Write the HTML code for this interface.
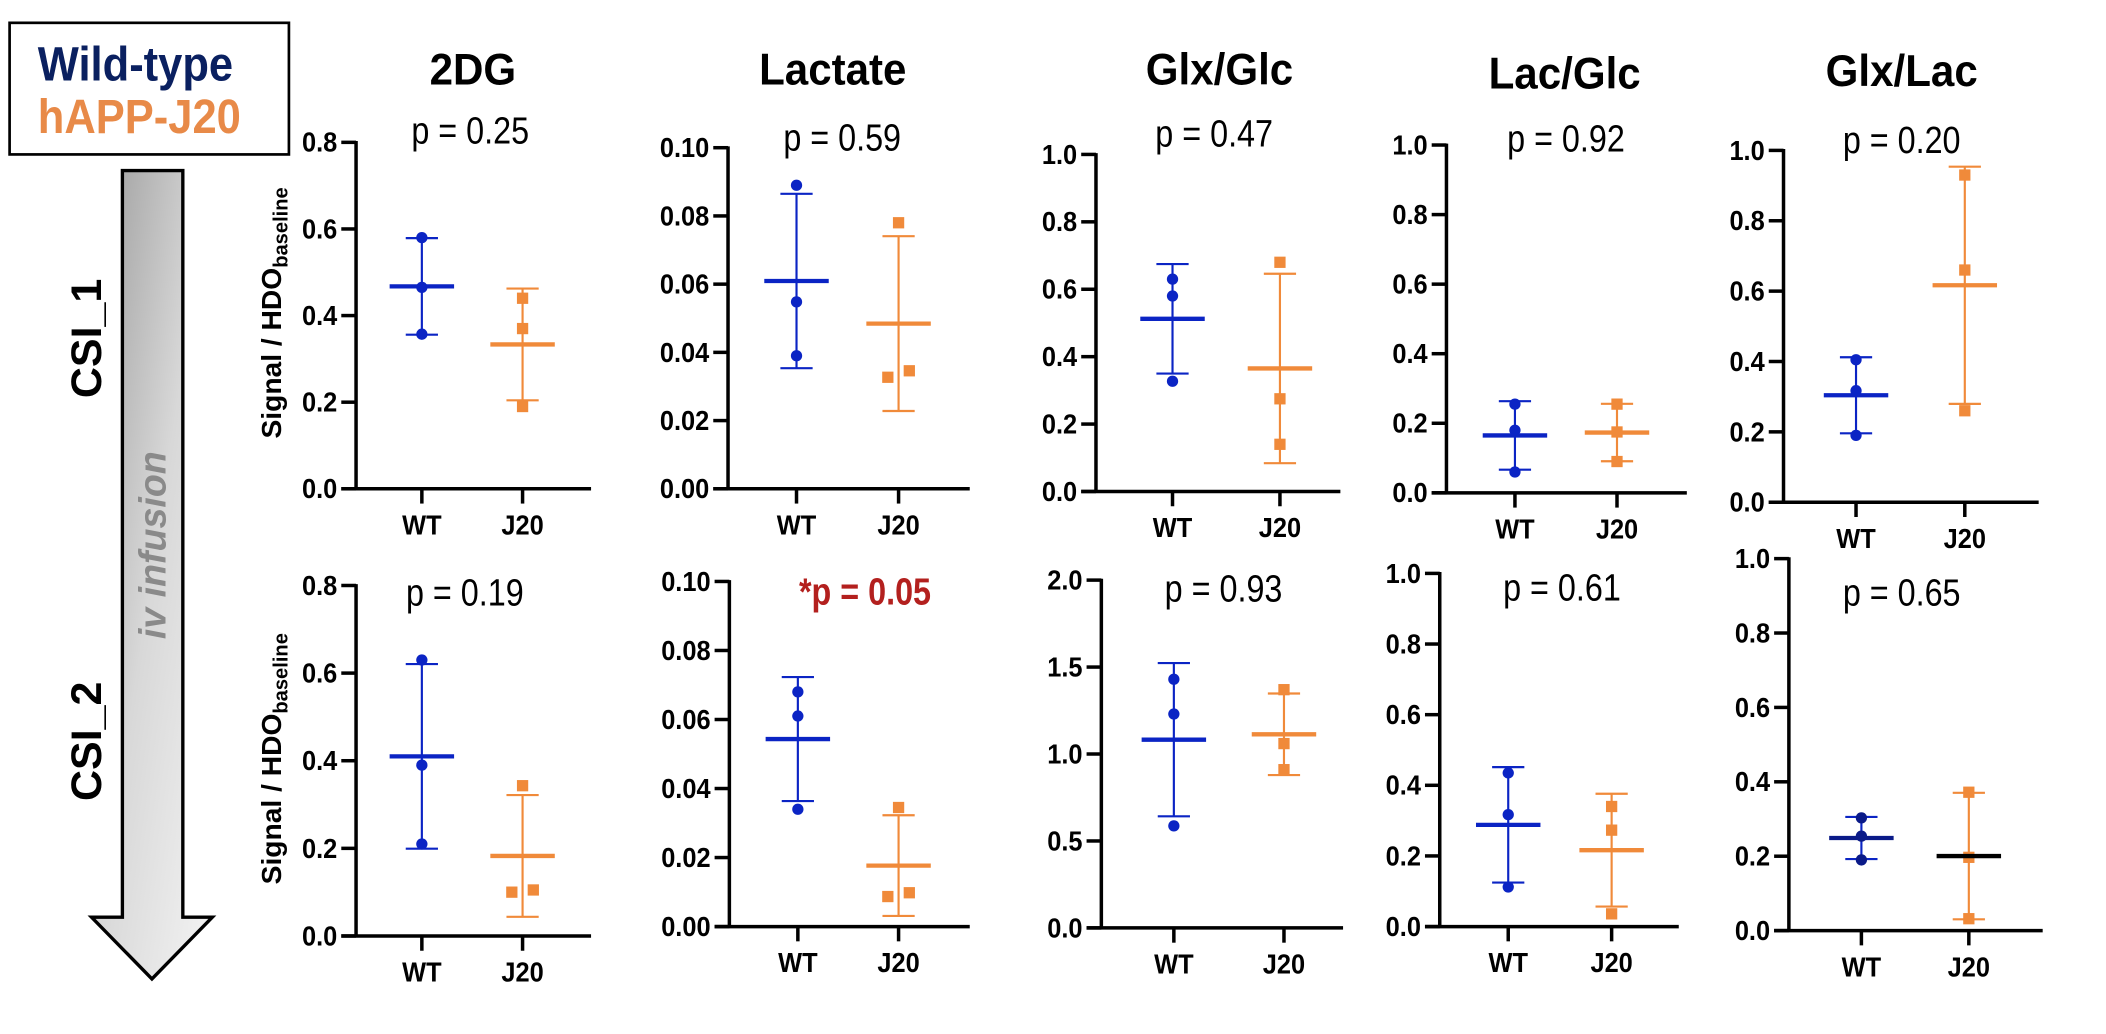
<!DOCTYPE html>
<html><head><meta charset="utf-8"><style>
html,body{margin:0;padding:0;background:#fff;}
svg{display:block;font-family:"Liberation Sans",Arial,sans-serif;}
</style></head><body>
<svg id="fig" width="2106" height="1034" viewBox="0 0 1568 770" xmlns="http://www.w3.org/2000/svg">
<defs>
<linearGradient id="arrowGrad" x1="0" y1="0" x2="1" y2="1">
<stop offset="0" stop-color="#9a9a9a"/><stop offset="0.5" stop-color="#d8d8d8"/><stop offset="1" stop-color="#f4f4f4"/>
</linearGradient>
</defs>
<g>
<rect x="7" y="17" width="208" height="98" fill="#fff" stroke="#000" stroke-width="2"/>
<text transform="translate(28,60) scale(0.9,1)" font-size="36" font-weight="bold" fill="#0a2060">Wild-type</text>
<text transform="translate(28,99) scale(0.9,1)" font-size="36" font-weight="bold" fill="#e88a48">hAPP-J20</text>
</g>
<g>
<path d="M91,127 L136,127 L136,683 L158,683 L113,729 L68,683 L91,683 Z" fill="url(#arrowGrad)" stroke="#000" stroke-width="2.5"/>
<text transform="translate(123,406) rotate(-90)" text-anchor="middle" font-size="28" font-weight="bold" font-style="italic" fill="#8a8a8a">iv infusion</text>
</g>
<text transform="translate(75,252) rotate(-90)" text-anchor="middle" font-size="32" font-weight="bold">CSI_1</text>
<text transform="translate(75,552) rotate(-90)" text-anchor="middle" font-size="32" font-weight="bold">CSI_2</text>
<text transform="translate(209,233) rotate(-90)" text-anchor="middle" font-size="21" font-weight="bold">Signal / HDO<tspan font-size="15" dy="5">baseline</tspan></text>
<text transform="translate(209,565) rotate(-90)" text-anchor="middle" font-size="21" font-weight="bold">Signal / HDO<tspan font-size="15" dy="5">baseline</tspan></text>
<g id="plots"></g>
</svg>
<script>
// ---- data ----
const categories = ["WT", "J20"];
const panelTitles = ["2DG", "Lactate", "Glx/Glc", "Lac/Glc", "Glx/Lac"];
const pLabelsCsi1 = ["p = 0.25", "p = 0.59", "p = 0.47", "p = 0.92", "p = 0.20"];
const pLabelsCsi2 = ["p = 0.19", "*p = 0.05", "p = 0.93", "p = 0.61", "p = 0.65"];
const yMaxCsi1 = [0.8, 0.10, 1.0, 1.0, 1.0];
const yMaxCsi2 = [0.8, 0.10, 2.0, 1.0, 1.0];
const yStepCsi1 = [0.2, 0.02, 0.2, 0.2, 0.2];
const yStepCsi2 = [0.2, 0.02, 0.5, 0.2, 0.2];
const csi1WT = [[0.58, 0.465, 0.357], [0.089, 0.0548, 0.039], [0.63, 0.58, 0.327], [0.255, 0.18, 0.06], [0.405, 0.317, 0.19]];
const csi1J20 = [[0.44, 0.37, 0.19], [0.078, 0.0346, 0.0327], [0.68, 0.275, 0.14], [0.255, 0.175, 0.09], [0.93, 0.66, 0.26]];
const csi2WT = [[0.63, 0.39, 0.21], [0.068, 0.061, 0.034], [1.43, 1.23, 0.587], [0.435, 0.317, 0.112], [0.303, 0.254, 0.19]];
const csi2J20 = [[0.343, 0.105, 0.10], [0.0345, 0.0098, 0.0087], [1.37, 1.06, 0.91], [0.34, 0.273, 0.036], [0.372, 0.197, 0.032]];

// ---- layout (pixels in 1568x770 space) ----
const layoutCsi1 = [
  {ax:265, yTop:106, y0:364, xEnd:440, cx:[314,389], tx:352, ty:63, px:350, py:107},
  {ax:542, yTop:110, y0:364, xEnd:722, cx:[593,669], tx:620, ty:63, px:627, py:112},
  {ax:816, yTop:115, y0:366, xEnd:998, cx:[873,953], tx:908, ty:63, px:904, py:109},
  {ax:1077, yTop:108, y0:367, xEnd:1256, cx:[1128,1204], tx:1165, ty:66, px:1166, py:113},
  {ax:1328, yTop:112, y0:374, xEnd:1518, cx:[1382,1463], tx:1416, ty:64, px:1416, py:114}
];
const layoutCsi2 = [
  {ax:265, yTop:436, y0:697, xEnd:440, cx:[314,389], px:346, py:451},
  {ax:543, yTop:433, y0:690, xEnd:722, cx:[594,669], px:644, py:450, red:true},
  {ax:820, yTop:432, y0:691, xEnd:1000, cx:[874,956], px:911, py:448},
  {ax:1072, yTop:427, y0:690, xEnd:1250, cx:[1123,1200], px:1163, py:447},
  {ax:1332, yTop:416, y0:693, xEnd:1521, cx:[1386,1466], px:1416, py:451, wtMean:"#0a1a88", j20Mean:"#000"}
];
const BLUE = "#0b24c4", ORANGE = "#f08a3a";
const NS = "http://www.w3.org/2000/svg";
const root = document.getElementById("plots");

function mk(tag, attrs, parent) {
  const e = document.createElementNS(NS, tag);
  for (const k in attrs) e.setAttribute(k, attrs[k]);
  parent.appendChild(e);
  return e;
}
function txt(x, y, sx, attrs, parent, s) {
  const a = Object.assign({transform: "translate(" + x + "," + y + ") scale(" + sx + ",1)"}, attrs);
  const t = mk("text", a, parent);
  t.textContent = s;
  return t;
}
function mean(a) { return a.reduce((s, v) => s + v, 0) / a.length; }
function sd(a) { const m = mean(a); return Math.sqrt(a.reduce((s, v) => s + (v - m) * (v - m), 0) / (a.length - 1)); }

function drawPanel(row, i, L, yMax, yStep, wt, j20, pLabel, title) {
  const g = mk("g", {}, root);
  
  
  const yScale = v => L.y0 - (v / yMax) * (L.y0 - L.yTop);
  const dec = yStep < 0.1 ? 2 : 1;
  const yAxis = mk("line", {x1:L.ax, y1:L.yTop - 1, x2:L.ax, y2:L.y0 + 1, stroke:"#000", "stroke-width":2.6}, g);
  
  
  const nT = Math.round(yMax / yStep);
  for (let k = 0; k <= nT; k++) {
    const v = k * yStep, y = yScale(v);
    const t = mk("line", {x1:L.ax - 11, y1:y, x2:L.ax, y2:y, stroke:"#000", "stroke-width":2.6}, g);
    
    
    const tl = txt(L.ax - 14, y + 7, 0.9, {"text-anchor":"end", "font-size":21, "font-weight":"bold"}, g, v.toFixed(dec));
    
    
  }
  const xAxis = mk("line", {x1:L.ax - 11, y1:L.y0, x2:L.xEnd, y2:L.y0, stroke:"#000", "stroke-width":2.6}, g);
  
  
  categories.forEach((c, ci) => {
    const x = L.cx[ci];
    const t = mk("line", {x1:x, y1:L.y0, x2:x, y2:L.y0 + 11, stroke:"#000", "stroke-width":2.6}, g);
    
    
    const tl = txt(x, L.y0 + 34, 0.9, {"text-anchor":"middle", "font-size":21, "font-weight":"bold"}, g, c);
    
    
  });
  [wt, j20].forEach((vals, gi) => {
    const color = gi === 0 ? BLUE : ORANGE;
    const x = L.cx[gi];
    const m = mean(vals), s = sd(vals);
    const gg = mk("g", {}, g);
    
    
    const eb = mk("line", {x1:x, y1:yScale(m + s), x2:x, y2:yScale(m - s), stroke:color, "stroke-width":1.6}, gg);
    
    
    [m + s, m - s].forEach(v => {
      const cap = mk("line", {x1:x - 12, y1:yScale(v), x2:x + 12, y2:yScale(v), stroke:color, "stroke-width":1.6}, gg);
      
      
    });
    vals.forEach((v, vi) => {
      let dx = 0;
      vals.forEach((w, wi) => {
        if (wi !== vi && Math.abs(yScale(w) - yScale(v)) < 8) dx = v >= w ? 8 : -8;
      });
      const y = yScale(v);
      let p;
      if (gi === 0) {
        p = mk("circle", {cx:x + dx, cy:y, r:4.2, fill: (L.wtMean || BLUE)}, gg);
      } else {
        p = mk("rect", {x:x + dx - 4.2, y:y - 4.2, width:8.4, height:8.4, fill:color}, gg);
      }
      
      
    });
    const mc = gi === 0 ? (L.wtMean || BLUE) : (L.j20Mean || ORANGE);
    const ml = mk("line", {x1:x - 24, y1:yScale(m), x2:x + 24, y2:yScale(m), stroke:mc, "stroke-width":3.2}, gg);
    
    
  });
  const pt = txt(L.px, L.py, 0.86, {"text-anchor":"middle", "font-size":28,
    "font-weight": L.red ? "bold" : "normal", fill: L.red ? "#b3201e" : "#000"}, g, pLabel);
  
  
  if (L.tx) {
    const tt = txt(L.tx, L.ty, 0.95, {"text-anchor":"middle", "font-size":33, "font-weight":"bold"}, g, title);
    
    
  }
}
for (let i = 0; i < 5; i++) {
  drawPanel("csi1", i, layoutCsi1[i], yMaxCsi1[i], yStepCsi1[i], csi1WT[i], csi1J20[i], pLabelsCsi1[i], panelTitles[i]);
  drawPanel("csi2", i, layoutCsi2[i], yMaxCsi2[i], yStepCsi2[i], csi2WT[i], csi2J20[i], pLabelsCsi2[i], panelTitles[i]);
}
</script>
</body></html>
